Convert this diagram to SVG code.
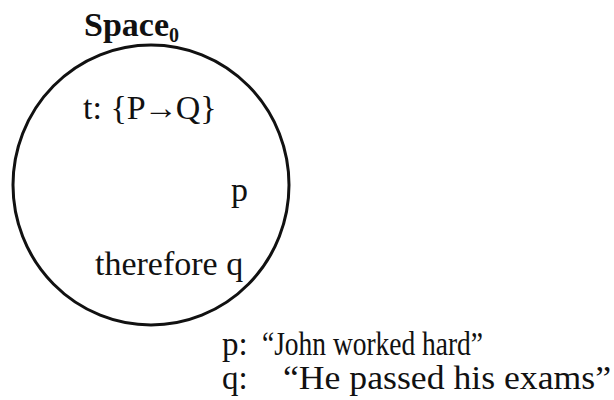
<svg xmlns="http://www.w3.org/2000/svg" width="614" height="400" viewBox="0 0 614 400">
<style>
.t{font-family:"Liberation Serif","Times New Roman",serif;font-size:34px;fill:#111}
.b{font-weight:bold}
.s{font-size:33px}
</style>
<rect width="614" height="400" fill="#fff"/>
<g id="space0">
<ellipse cx="151" cy="185" rx="138" ry="140" fill="none" stroke="#111" stroke-width="3"/>
<text class="t b" x="84" y="36">Space<tspan font-size="20" dy="6">0</tspan></text>
<text class="t" x="83" y="119">t: {P<tspan dx="-2">→</tspan><tspan dx="-2">Q}</tspan></text>
<text class="t" x="231" y="201">p</text>
<text class="t" x="95" y="275">therefore q</text>
</g>
<g id="legend">
<text class="t s" x="222" y="355">p:<tspan x="262" textLength="221" lengthAdjust="spacingAndGlyphs">“John worked hard”</tspan></text>
<text class="t s" x="222" y="389">q:<tspan x="283" font-size="34" textLength="328" lengthAdjust="spacingAndGlyphs">“He passed his exams”</tspan></text>
</g>
</svg>
